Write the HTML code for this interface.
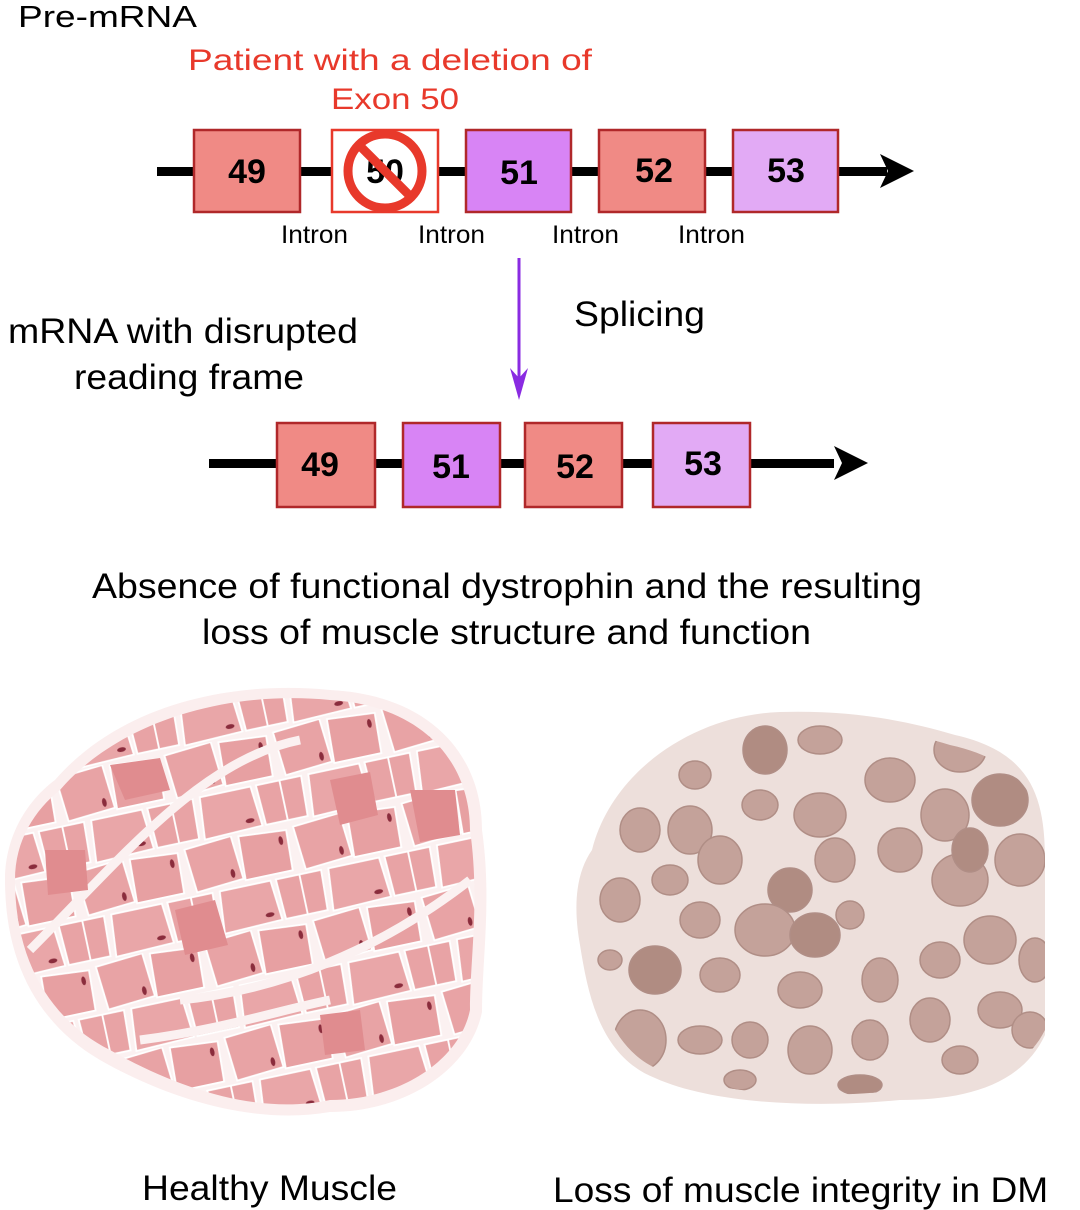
<!DOCTYPE html>
<html><head><meta charset="utf-8"><style>
html,body{margin:0;padding:0;background:#fff;}
svg{display:block;}
text{font-family:"Liberation Sans",Arial,sans-serif;}
</style></head><body>
<svg width="1080" height="1210" viewBox="0 0 1080 1210" xmlns="http://www.w3.org/2000/svg">
<defs>
 <pattern id="cells" width="60" height="52" patternUnits="userSpaceOnUse" patternTransform="rotate(-12) scale(1.85)">
  <rect width="60" height="52" fill="#fbf1f1"/>
  <polygon points="2,2 28,0 30,24 4,26" fill="#e8a3a5" stroke="#fff" stroke-width="1"/>
  <polygon points="32,1 58,3 57,25 31,25" fill="#e7a0a2" stroke="#fff" stroke-width="1"/>
  <polygon points="16,28 44,28 46,50 14,51" fill="#e9a6a8" stroke="#fff" stroke-width="1"/>
  <polygon points="47,28 60,28 60,50 48,50" fill="#e8a3a5" stroke="#fff" stroke-width="1"/>
  <polygon points="0,28 12,28 11,50 0,50" fill="#e8a3a5" stroke="#fff" stroke-width="1"/>
  <ellipse cx="25" cy="20" rx="1.2" ry="2.4" fill="#8a2c3c"/>
  <ellipse cx="54" cy="8" rx="1.2" ry="2.4" fill="#8a2c3c"/>
  <ellipse cx="40" cy="46" rx="2.4" ry="1.2" fill="#8a2c3c"/>
 </pattern>
 <clipPath id="hclip"><path d="M60,790 C120,720 230,690 330,700 C420,705 470,760 470,830 C480,900 470,960 470,1010 C460,1060 400,1100 330,1100 C260,1115 180,1090 110,1050 C50,1020 15,960 15,880 C15,840 35,810 60,790Z"/></clipPath>
 <clipPath id="dclip"><path d="M600,850 C620,780 700,725 780,722 C850,720 900,730 950,745 C1020,760 1045,800 1045,860 L1045,1030 C1020,1080 960,1090 900,1090 C820,1100 720,1095 660,1070 C610,1050 595,990 590,940 C580,900 585,870 600,850Z"/></clipPath>
</defs>

<text x="18" y="27" font-size="31" fill="#000" textLength="179" lengthAdjust="spacingAndGlyphs">Pre-mRNA</text>
<text x="188" y="70" font-size="30" fill="#e8392b" textLength="404" lengthAdjust="spacingAndGlyphs">Patient with a deletion of</text>
<text x="331" y="109" font-size="30" fill="#e8392b" textLength="128" lengthAdjust="spacingAndGlyphs">Exon 50</text>

<!-- top row -->
<rect x="157" y="167" width="730" height="9" fill="#000"/>
<path d="M914,171 L880,154 L888,171 L880,188Z" fill="#000"/>
<g stroke="#b0282a" stroke-width="2.5">
<rect x="194" y="130" width="106" height="82" fill="#f08a85"/>
<rect x="332" y="130" width="106" height="82" fill="#fff" stroke="#e8392b"/>
<rect x="466" y="130" width="105" height="82" fill="#d884f5"/>
<rect x="599" y="130" width="106" height="82" fill="#f08a85"/>
<rect x="733" y="130" width="105" height="82" fill="#e2aaf5"/>
</g>
<g font-weight="bold" font-size="34" text-anchor="middle" fill="#000">
<text x="247" y="183">49</text>
<text x="385" y="183">50</text>
<text x="519" y="184">51</text>
<text x="654" y="182">52</text>
<text x="786" y="182">53</text>
</g>
<circle cx="385" cy="171" r="37" fill="none" stroke="#e8392b" stroke-width="9"/>
<line x1="359" y1="145" x2="411" y2="197" stroke="#e8392b" stroke-width="9"/>
<g font-size="25" fill="#000">
<text x="281" y="243" textLength="67" lengthAdjust="spacingAndGlyphs">Intron</text>
<text x="418" y="243" textLength="67" lengthAdjust="spacingAndGlyphs">Intron</text>
<text x="552" y="243" textLength="67" lengthAdjust="spacingAndGlyphs">Intron</text>
<text x="678" y="243" textLength="67" lengthAdjust="spacingAndGlyphs">Intron</text>
</g>

<!-- splicing arrow -->
<line x1="519" y1="258" x2="519" y2="390" stroke="#8a2be2" stroke-width="3"/>
<path d="M519,400 L510,368 L519,378 L528,368Z" fill="#8a2be2"/>
<text x="574" y="326" font-size="35" fill="#000" textLength="131" lengthAdjust="spacingAndGlyphs">Splicing</text>
<text x="8" y="343" font-size="35" fill="#000" textLength="350" lengthAdjust="spacingAndGlyphs">mRNA with disrupted</text>
<text x="74" y="389" font-size="35" fill="#000" textLength="230" lengthAdjust="spacingAndGlyphs">reading frame</text>

<!-- bottom row -->
<rect x="209" y="459" width="625" height="9" fill="#000"/>
<path d="M868,463 L834,446 L842,463 L834,480Z" fill="#000"/>
<g stroke="#b0282a" stroke-width="2.5">
<rect x="277" y="423" width="98" height="84" fill="#f08a85"/>
<rect x="403" y="423" width="97" height="84" fill="#d884f5"/>
<rect x="525" y="423" width="97" height="84" fill="#f08a85"/>
<rect x="653" y="423" width="97" height="84" fill="#e2aaf5"/>
</g>
<g font-weight="bold" font-size="34" text-anchor="middle" fill="#000">
<text x="320" y="476">49</text>
<text x="451" y="478">51</text>
<text x="575" y="478">52</text>
<text x="703" y="475">53</text>
</g>

<text x="92" y="598" font-size="35" fill="#000" textLength="830" lengthAdjust="spacingAndGlyphs">Absence of functional dystrophin and the resulting</text>
<text x="202" y="644" font-size="35" fill="#000" textLength="609" lengthAdjust="spacingAndGlyphs">loss of muscle structure and function</text>

<!-- healthy muscle -->
<path d="M55,780 C120,705 230,680 330,690 C430,695 482,755 482,830 C492,900 482,960 482,1012 C470,1070 405,1112 330,1112 C255,1125 170,1100 100,1060 C40,1025 5,965 5,880 C5,835 28,800 55,780Z" fill="#fbeeee"/>
<rect x="0" y="680" width="500" height="450" fill="url(#cells)" clip-path="url(#hclip)"/>
<g clip-path="url(#hclip)" stroke="#fbf1f1" stroke-width="9" fill="none">
<path d="M30,950 C120,860 200,760 300,740"/>
<path d="M180,1000 C280,990 380,950 470,880"/>
<path d="M140,1040 C220,1030 280,1010 330,1000"/>
</g>
<g fill="#e08c8f" clip-path="url(#hclip)">
<polygon points="110,765 160,758 170,790 125,800"/>
<polygon points="175,910 215,900 228,945 185,955"/>
<polygon points="330,780 370,772 378,815 340,825"/>
<polygon points="410,790 455,790 460,835 420,842"/>
<polygon points="320,1015 360,1010 365,1050 325,1055"/>
<polygon points="45,850 85,850 88,890 48,895"/>
</g>

<!-- DMD muscle -->
<path d="M592,850 C612,770 695,715 780,712 C850,710 905,720 955,735 C1030,752 1045,795 1045,860 L1045,1035 C1020,1088 960,1100 900,1100 C820,1108 715,1105 655,1078 C600,1056 588,995 580,945 C572,900 578,870 592,850Z" fill="#eddfdb"/>
<g clip-path="url(#dclip)" fill="#c4a29a" stroke="#b08e86" stroke-width="1.5">
<ellipse cx="765" cy="750" rx="22" ry="24" fill="#b08c82"/>
<ellipse cx="695" cy="775" rx="16" ry="14"/><ellipse cx="820" cy="740" rx="22" ry="14"/>
<ellipse cx="640" cy="830" rx="20" ry="22"/><ellipse cx="690" cy="830" rx="22" ry="24"/>
<ellipse cx="760" cy="805" rx="18" ry="15"/><ellipse cx="820" cy="815" rx="26" ry="22"/>
<ellipse cx="890" cy="780" rx="25" ry="22"/><ellipse cx="960" cy="750" rx="26" ry="22"/>
<ellipse cx="1000" cy="800" rx="28" ry="26" fill="#b08c82"/><ellipse cx="945" cy="815" rx="24" ry="26"/>
<ellipse cx="900" cy="850" rx="22" ry="22"/><ellipse cx="960" cy="880" rx="28" ry="26"/>
<ellipse cx="1020" cy="860" rx="25" ry="26"/><ellipse cx="970" cy="850" rx="18" ry="22" fill="#b08c82"/>
<ellipse cx="620" cy="900" rx="20" ry="22"/><ellipse cx="670" cy="880" rx="18" ry="15"/>
<ellipse cx="720" cy="860" rx="22" ry="24"/><ellipse cx="790" cy="890" rx="22" ry="22" fill="#b08c82"/>
<ellipse cx="835" cy="860" rx="20" ry="22"/><ellipse cx="850" cy="915" rx="14" ry="14"/>
<ellipse cx="700" cy="920" rx="20" ry="18"/><ellipse cx="765" cy="930" rx="30" ry="26"/>
<ellipse cx="815" cy="935" rx="25" ry="22" fill="#b08c82"/><ellipse cx="655" cy="970" rx="26" ry="24" fill="#b08c82"/>
<ellipse cx="720" cy="975" rx="20" ry="17"/><ellipse cx="800" cy="990" rx="22" ry="18"/>
<ellipse cx="880" cy="980" rx="18" ry="22"/><ellipse cx="940" cy="960" rx="20" ry="18"/>
<ellipse cx="990" cy="940" rx="26" ry="24"/><ellipse cx="1035" cy="960" rx="16" ry="22"/>
<ellipse cx="640" cy="1040" rx="26" ry="30"/><ellipse cx="700" cy="1040" rx="22" ry="14"/>
<ellipse cx="750" cy="1040" rx="18" ry="18"/><ellipse cx="810" cy="1050" rx="22" ry="24"/>
<ellipse cx="870" cy="1040" rx="18" ry="20"/><ellipse cx="930" cy="1020" rx="20" ry="22"/>
<ellipse cx="1000" cy="1010" rx="22" ry="18"/><ellipse cx="740" cy="1080" rx="16" ry="10"/>
<ellipse cx="860" cy="1085" rx="22" ry="10" fill="#b08c82"/><ellipse cx="960" cy="1060" rx="18" ry="14"/>
<ellipse cx="610" cy="960" rx="12" ry="10"/><ellipse cx="1030" cy="1030" rx="18" ry="18"/>
</g>
<rect x="1046" y="700" width="34" height="420" fill="#fff"/>

<text x="142" y="1200" font-size="35" fill="#000" textLength="255" lengthAdjust="spacingAndGlyphs">Healthy Muscle</text>
<svg x="0" y="1150" width="1046" height="60" overflow="hidden">
<text x="553" y="52" font-size="35" fill="#000" textLength="522" lengthAdjust="spacingAndGlyphs">Loss of muscle integrity in DMD</text>
</svg>
</svg>
</body></html>
